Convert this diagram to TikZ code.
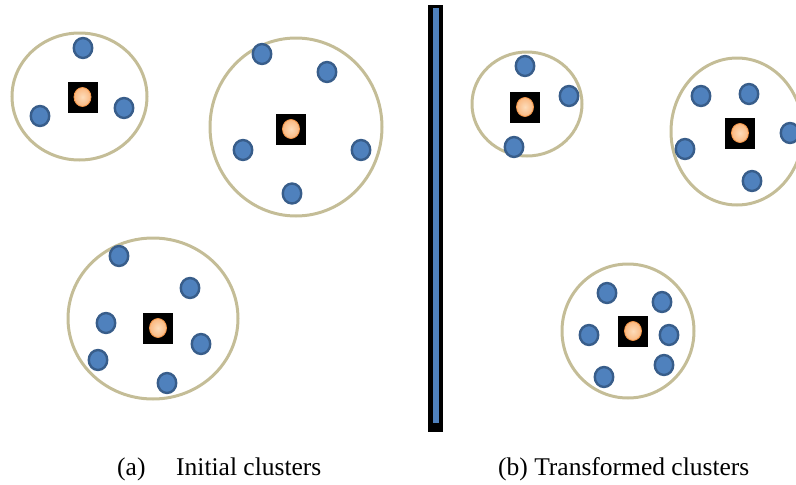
\documentclass[tikz,border=0pt]{standalone}
\usepackage{fontspec}
\setmainfont{Liberation Serif}
\usetikzlibrary{shapes.geometric}
\definecolor{ringtan}{RGB}{196,189,151}
\definecolor{dotblue}{RGB}{79,129,189}
\definecolor{dotedge}{RGB}{56,93,138}
\definecolor{peach}{RGB}{253,220,186}
\definecolor{peachedge}{RGB}{250,184,128}
\definecolor{centreorange}{RGB}{247,150,70}
\tikzset{
  ring/.style={ellipse, draw=ringtan, line width=3pt, inner sep=0pt},
  member/.style={ellipse, fill=dotblue, draw=dotedge, line width=2.4pt, minimum width=18.5pt, minimum height=20pt, inner sep=0pt},
  centrebox/.style={rectangle, fill=black, minimum width=30pt, minimum height=31pt, inner sep=0pt},
  centredot/.style={ellipse, inner color=peach, outer color=peachedge, draw=centreorange, line width=0.8pt, minimum width=17pt, minimum height=19pt, inner sep=0pt},
  caption/.style={anchor=base west, inner sep=0pt, font=\fontsize{25.5}{30}\selectfont}
}
\newcommand{\centroid}[2]{%
  \node[centrebox] (#1) at #2 {};
  \node[centredot] (#1-c) at #2 {};
}
\begin{document}
\begin{tikzpicture}[x=1pt,y=-1pt]
\useasboundingbox (0,0) rectangle (796,485);

% ---- initial clusters ----
\node[ring, minimum width=135pt, minimum height=127pt] (ra) at (79.5,96.5) {};
\centroid{ca}{(82.5,97)}
\node[member] (a1) at (83,48) {};
\node[member] (a2) at (40,116) {};
\node[member] (a3) at (124,108) {};

\node[ring, minimum width=172pt, minimum height=178pt] (rb) at (296,127) {};
\centroid{cb}{(291,129)}
\node[member] (b1) at (262,54) {};
\node[member] (b2) at (327,72) {};
\node[member] (b3) at (243,150) {};
\node[member] (b4) at (361,150) {};
\node[member] (b5) at (292,193.5) {};

\node[ring, minimum width=170pt, minimum height=161pt] (rc) at (153,318.5) {};
\centroid{cc}{(158,328)}
\node[member] (c1) at (119,256) {};
\node[member] (c2) at (190,288) {};
\node[member] (c3) at (106,323) {};
\node[member] (c4) at (201,344) {};
\node[member] (c5) at (98,360) {};
\node[member] (c6) at (167,383) {};

% ---- separator bar ----
\fill[black] (428,5) rectangle (443,432);
\fill[dotblue] (433,8) rectangle (438.5,423);

% ---- transformed clusters ----
\node[ring, minimum width=110pt, minimum height=104pt] (rd) at (527,104) {};
\centroid{cd}{(525,107)}
\node[member] (d1) at (525,66) {};
\node[member] (d2) at (569,96) {};
\node[member] (d3) at (514,147) {};

\node[ring, minimum width=132pt, minimum height=147pt] (re) at (737,131.5) {};
\centroid{ce}{(740,133)}
\node[member] (e1) at (701,96) {};
\node[member] (e2) at (749,94) {};
\node[member] (e3) at (685,149) {};
\node[member] (e4) at (752,181) {};
\node[member] (e5) at (790,133) {};

\node[ring, minimum width=132pt, minimum height=134pt] (rf) at (628,331) {};
\centroid{cf}{(633,331)}
\node[member] (f1) at (607,293) {};
\node[member] (f2) at (662,302) {};
\node[member] (f3) at (589,335) {};
\node[member] (f4) at (669,335) {};
\node[member] (f5) at (664,365) {};
\node[member] (f6) at (604,377) {};

% ---- captions ----
\node[caption] (la) at (117,475) {(a)};
\node[caption] (lat) at (176,475) {Initial clusters};
\node[caption] (lb) at (498,475) {(b) Transformed clusters};
\end{tikzpicture}
\end{document}
